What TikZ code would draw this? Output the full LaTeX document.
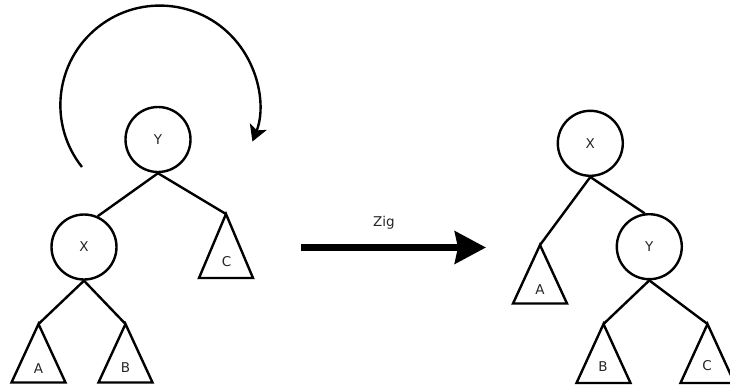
\documentclass[tikz,border=0pt]{standalone}
\usepackage{fontspec}
\setmainfont{DejaVu Sans}
\usetikzlibrary{arrows.meta}
\begin{document}
\begin{tikzpicture}[x=1pt,y=-1pt,
  treenode/.style={circle,draw=black,line width=2.4pt,minimum size=65pt,inner sep=0pt,font=\fontsize{13.5}{15}\selectfont,text=black!85},
  edge/.style={draw=black,line width=2.4pt},
  tri/.style={draw=black,line width=2.4pt,line join=miter},
  trilabel/.style={font=\fontsize{13.5}{15}\selectfont,text=black!85,inner sep=0pt}]
\useasboundingbox (0,0) rectangle (730,388);
\clip (0,0) rectangle (730,388);
% left tree
\node[treenode] (LY) at (158,139.5) {Y};
\node[treenode] (LX) at (84,247) {X};
\coordinate (LCa) at (226,214);
\coordinate (LAa) at (38.5,324);
\coordinate (LBa) at (125.5,324);
\draw[tri] (LCa) -- ++(-27,64) -- ++(54,0) -- cycle;
\draw[tri] (LAa) -- ++(-27,58.5) -- ++(54,0) -- cycle;
\draw[tri] (LBa) -- ++(-27,58.5) -- ++(54,0) -- cycle;
\node[trilabel] (LC) at (226.5,262) {C};
\node[trilabel] (LA) at (38.5,369) {A};
\node[trilabel] (LB) at (125.5,368) {B};
\draw[edge] (LY.south) -- (LX.66);
\draw[edge] (LY.south) -- (LCa);
\draw[edge] (LX.south) -- (LAa);
\draw[edge] (LX.south) -- (LBa);
% rotation arc
\coordinate (ArcStart) at (82,167);
\draw[line width=2.4pt,-{Stealth[length=16pt,width=18pt,inset=4pt]}] (ArcStart) arc[start angle=-218.5,end angle=21.5,radius=99.5];
% zig arrow
\coordinate (ZigS) at (301,247.5);
\coordinate (ZigE) at (486,247.5);
\draw[line width=7.5pt,-{Stealth[length=31pt,width=32pt,inset=3pt]}] (ZigS) -- (ZigE);
\node[trilabel] (Zig) at (384,223) {Zig};
% right tree
\node[treenode] (RX) at (590.3,143.3) {X};
\node[treenode] (RY) at (649.3,246.7) {Y};
\coordinate (RAa) at (540,245);
\coordinate (RBa) at (603.5,324);
\coordinate (RCa) at (707.5,324);
\draw[tri] (RAa) -- ++(-27,58.5) -- ++(54,0) -- cycle;
\draw[tri] (RBa) -- ++(-27,59) -- ++(54,0) -- cycle;
\draw[tri] (RCa) -- ++(-27,59) -- ++(54,0) -- cycle;
\node[trilabel] (RA) at (540,290) {A};
\node[trilabel] (RB) at (603,367) {B};
\node[trilabel] (RC) at (707,366) {C};
\draw[edge] (RX.south) -- (RAa);
\draw[edge] (RX.south) -- (RY.98);
\draw[edge] (RY.south) -- (RBa);
\draw[edge] (RY.south) -- (RCa);
\end{tikzpicture}
\end{document}
